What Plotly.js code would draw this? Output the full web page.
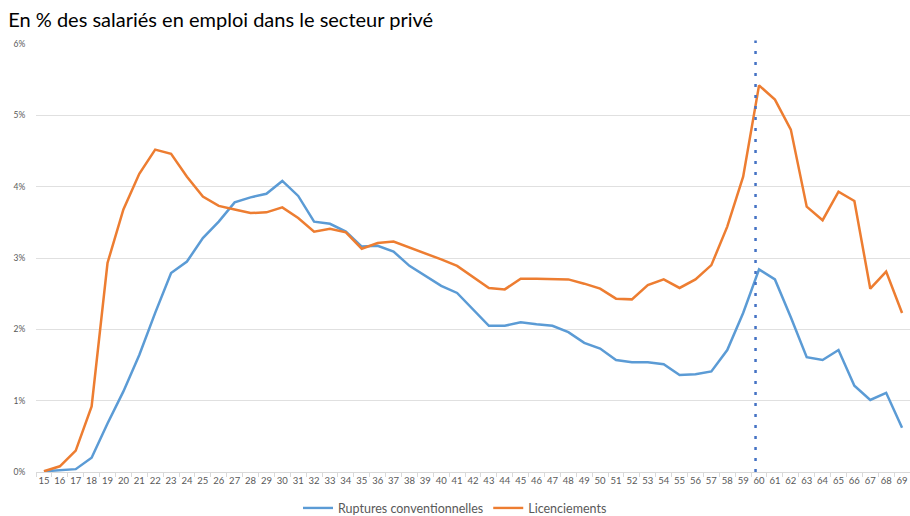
<!DOCTYPE html>
<html>
<head>
<meta charset="utf-8">
<script src="https://cdn.plot.ly/plotly-3.0.1.min.js"></script>
<style>html,body{margin:0;padding:0;background:#fff;}#chart{width:910px;height:516px;}</style>
</head>
<body>
<div id="chart"></div>
<script>
const ages = [15,16,17,18,19,20,21,22,23,24,25,26,27,28,29,30,31,32,33,34,35,36,37,38,39,40,41,42,43,44,45,46,47,48,49,50,51,52,53,54,55,56,57,58,59,60,61,62,63,64,65,66,67,68,69];
const ruptures = [0.01,0.02,0.04,0.20,0.68,1.13,1.64,2.23,2.79,2.95,3.28,3.51,3.78,3.85,3.90,4.08,3.87,3.51,3.48,3.37,3.16,3.17,3.09,2.89,2.75,2.61,2.51,2.28,2.05,2.05,2.10,2.07,2.05,1.96,1.81,1.73,1.57,1.54,1.54,1.51,1.36,1.37,1.41,1.71,2.23,2.84,2.70,2.17,1.61,1.57,1.71,1.21,1.01,1.11,0.62];
const licenciements = [0.01,0.08,0.30,0.92,2.93,3.68,4.18,4.52,4.46,4.14,3.86,3.73,3.68,3.63,3.64,3.71,3.56,3.37,3.41,3.36,3.13,3.21,3.23,3.15,3.07,2.98,2.89,2.73,2.58,2.56,2.71,2.71,2.71,2.70,2.64,2.57,2.43,2.42,2.62,2.70,2.58,2.70,2.90,3.44,4.14,5.42,5.22,4.80,3.72,3.53,3.93,3.80,2.57,2.81,2.23];
const seriesNames = ["Ruptures conventionnelles", "Licenciements"];
const refAge = 59.78;
const yTicks = [0,1,2,3,4,5,6];
const yTickText = ["0%","1%","2%","3%","4%","5%","6%"];
const titleText = "En % des salariés en emploi dans le secteur privé";

const font = "Lato, 'Noto Sans', sans-serif";
const traces = [
  {x: ages, y: ruptures, name: seriesNames[0], type: 'scatter', mode: 'lines',
   line: {color: '#5B9BD5', width: 2.5}},
  {x: ages, y: licenciements, name: seriesNames[1], type: 'scatter', mode: 'lines',
   line: {color: '#ED7D31', width: 2.5}}
];
const layout = {
  width: 910, height: 516,
  margin: {l: 36, r: 0, t: 44, b: 44, autoexpand: false},
  paper_bgcolor: '#fff', plot_bgcolor: '#fff',
  font: {family: font, color: '#595959', size: 9},
  title: {text: titleText, x: 0.009, xanchor: 'left', xref: 'container', y: 0.962, yref: 'container', yanchor: 'middle',
          font: {family: font, size: 20, color: '#000'}},
  showlegend: true,
  legend: {orientation: 'h', x: 0.5, xanchor: 'center', xref: 'container', y: 0.015, yref: 'container', yanchor: 'middle',
           font: {size: 12.5, color: '#595959'}, itemwidth: 30, tracegroupgap: 0},
  xaxis: {range: [14.5, 69.5], tickmode: 'linear', tick0: 15, dtick: 1, showgrid: false, zeroline: false,
          showline: true, linecolor: '#d9d9d9', linewidth: 1, ticks: '',
          tickfont: {size: 9.5, color: '#595959'},
          minor: {tick0: 14.5, dtick: 1, ticks: 'outside', ticklen: 4, tickcolor: '#d9d9d9', showgrid: false}},
  yaxis: {range: [0, 6], tickvals: yTicks, ticktext: yTickText, showgrid: true, gridcolor: '#e0e0e0', gridwidth: 1,
          zeroline: false, showline: false, ticks: 'outside', ticklen: 8, tickcolor: 'rgba(0,0,0,0)',
          tickfont: {size: 8.5, color: '#595959'}},
  shapes: [{type: 'line', xref: 'x', yref: 'paper', x0: refAge, x1: refAge, y0: 0, y1: 1.008,
            line: {color: '#4472C4', width: 2.5, dash: '3px,8px'}}]
};
Plotly.newPlot('chart', traces, layout, {displayModeBar: false, staticPlot: true});
</script>
</body>
</html>
